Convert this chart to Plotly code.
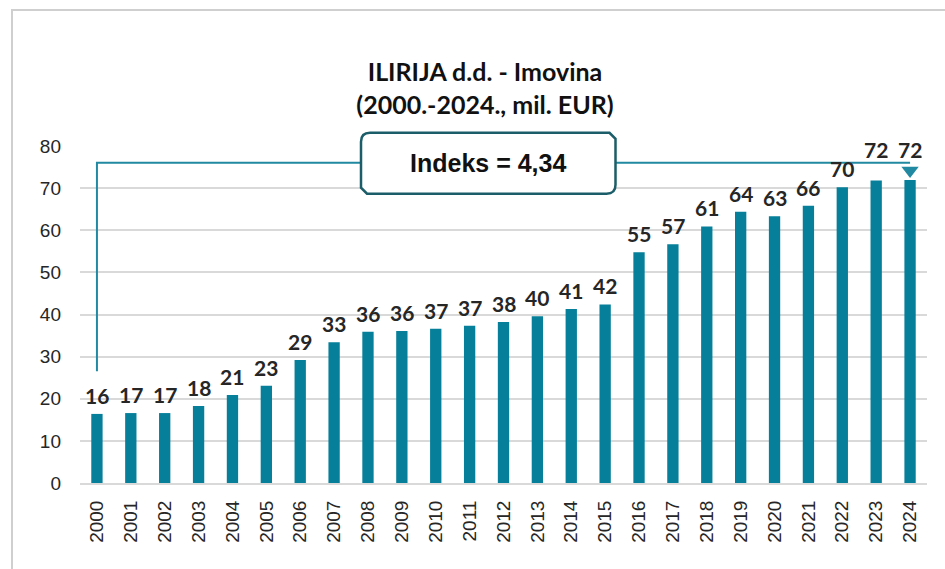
import plotly.graph_objects as go

# ---- data ----
years = [str(y) for y in range(2000, 2025)]
assets = [16.4, 16.6, 16.6, 18.3, 20.9, 23.1, 29.2, 33.4, 35.9, 36.1, 36.6, 37.3, 38.2,
          39.6, 41.3, 42.4, 54.8, 56.7, 60.9, 64.4, 63.3, 65.8, 70.2, 71.8, 71.9]
labels = ["16", "17", "17", "18", "21", "23", "29", "33", "36", "36", "37", "37", "38",
          "40", "41", "42", "55", "57", "61", "64", "63", "66", "70", "72", "72"]
y_ticks = [0, 10, 20, 30, 40, 50, 60, 70, 80]
title_lines = ["ILIRIJA d.d. - Imovina", "(2000.-2024., mil. EUR)"]
index_text = "Indeks = 4,34"
bracket_low = 26.5     # start of the index bracket above first bar
bracket_high = 76.0    # level of the horizontal bracket line
arrow_y = 74.2         # arrow head above the last bar

BAR = "#067f9a"
LINE = "#2189a1"
BOX = "#1b5d68"

# plot area in pixels
W, H = 945, 569
L, R, T, B = 80, 18, 145.5, 85.5
pw, ph = W - L - R, H - T - B


def px(x):
    return (x - L) / pw


def py(y):
    return (H - B - y) / ph


fig = go.Figure()
fig.add_trace(go.Bar(x=years, y=assets, marker=dict(color=BAR, line=dict(width=0)),
                     hoverinfo="x+y"))
# index bracket
fig.add_trace(go.Scatter(x=[years[0], years[0], years[-1]],
                         y=[bracket_low, bracket_high, bracket_high],
                         mode="lines", line=dict(color=LINE, width=2), hoverinfo="skip"))
fig.add_trace(go.Scatter(x=[years[-1]], y=[arrow_y], mode="markers",
                         marker=dict(symbol="triangle-down", size=15, color=LINE,
                                     line=dict(width=0)), hoverinfo="skip"))

# data labels (category axis -> serial index); labels that would collide with the
# bracket are lifted above its line
for i, (v, lab) in enumerate(zip(assets, labels)):
    lift = v > arrow_y - 4
    fig.add_annotation(x=i, y=bracket_high if lift else v, xref="x", yref="y",
                       text=f"<b>{lab}</b>",
                       showarrow=False, xanchor="center", yanchor="bottom",
                       yshift=-1 if lift else 4,
                       font=dict(family="Lato, 'Liberation Sans', sans-serif", size=21,
                                 color="#262626"))

# box with diagonal round/snip corners
x0, x1 = px(361), px(615.5)
y0, y1 = py(193.3), py(132.3)
rx, ry = 9 / pw, 9 / ph
sx, sy = 6 / pw, 6 / ph
path = (f"M {x0+rx},{y1} L {x1-sx},{y1} L {x1},{y1-sy} L {x1},{y0+ry} "
        f"Q {x1},{y0} {x1-rx},{y0} L {x0+sx},{y0} L {x0},{y0+sy} L {x0},{y1-ry} "
        f"Q {x0},{y1} {x0+rx},{y1} Z")
fig.add_shape(type="path", path=path, xref="paper", yref="paper",
              line=dict(color=BOX, width=2.5), fillcolor="white", layer="above")
fig.add_annotation(text=f"<b>{index_text}</b>", xref="paper", yref="paper",
                   x=(x0 + x1) / 2, y=(y0 + y1) / 2, xanchor="center", yanchor="middle",
                   showarrow=False,
                   font=dict(family="'Liberation Sans', Arial, sans-serif", size=25,
                             color="#111111"))

# outer chart border
fig.add_shape(type="rect", xref="paper", yref="paper",
              x0=px(12), x1=px(990), y0=py(620), y1=py(9),
              line=dict(color="#cfcfcf", width=2), fillcolor="rgba(0,0,0,0)", layer="below")

fig.update_layout(
    width=W, height=H,
    margin=dict(l=L, r=R, t=T, b=B, autoexpand=False),
    paper_bgcolor="white", plot_bgcolor="white",
    showlegend=False,
    bargap=0.666,
    title=dict(text="<br>".join(title_lines), x=485 / W, xanchor="center",
               xref="container", y=1 - 81 / H, yanchor="middle", yref="container",
               font=dict(family="Lato, 'Liberation Sans', sans-serif", size=25,
                         color="#111111", weight="bold")),
    font=dict(family="'Liberation Sans', Arial, sans-serif", size=19, color="#262626"),
)
fig.update_xaxes(type="category", range=[-0.5, len(years) - 0.5], tickangle=-90,
                 showgrid=False, showline=True,
                 linecolor="#d9d9d9", linewidth=2, ticks="", automargin=False,
                 tickfont=dict(size=19, color="#262626"), ticklabelstandoff=8,
                 fixedrange=True)
fig.update_yaxes(range=[0, 80], tickvals=y_ticks, showgrid=True, gridcolor="#d9d9d9",
                 gridwidth=1.5, zeroline=False, showline=False, ticks="", automargin=False,
                 tickfont=dict(size=19, color="#262626"), ticklabelstandoff=18,
                 fixedrange=True)

fig.write_html("out.html", config={"displayModeBar": False},
               post_script="document.body.style.margin='0';")
